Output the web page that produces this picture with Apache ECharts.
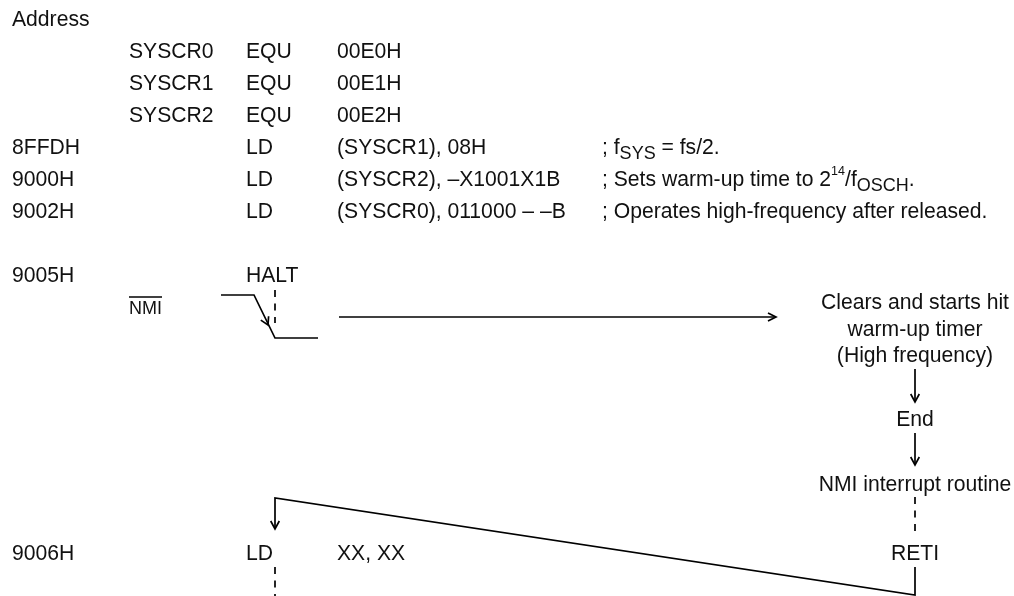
<!DOCTYPE html>
<html><head><meta charset="utf-8">
<style>html,body{margin:0;padding:0;background:#fff}#c{width:1014px;height:596px}</style>
<script src="https://cdn.jsdelivr.net/npm/echarts@6/dist/echarts.min.js"></script>
</head><body><div id="c"></div>
<script>
// Text content, [x, y, text]
const leftText = [
  [12,20,'Address'],
  [129,52,'SYSCR0'],[246,52,'EQU'],[337,52,'00E0H'],
  [129,84,'SYSCR1'],[246,84,'EQU'],[337,84,'00E1H'],
  [129,116,'SYSCR2'],[246,116,'EQU'],[337,116,'00E2H'],
  [12,148,'8FFDH'],[246,148,'LD'],[337,148,'(SYSCR1), 08H'],
  [12,180,'9000H'],[246,180,'LD'],[337,180,'(SYSCR2), \u2013X1001X1B'],
  [12,212,'9002H'],[246,212,'LD'],[337,212,'(SYSCR0), 011000 \u2013 \u2013B'],
  [602,148,'; f{sub|SYS} = fs/2.'],
  [602,180,'; Sets warm-up time to 2{sup|14}/f{sub|OSCH}.'],
  [602,212,'; Operates high-frequency after released.'],
  [12,276,'9005H'],[246,276,'HALT'],
  [12,554,'9006H'],[246,554,'LD'],[337,554,'XX, XX']
];
const nmiLabel = [[129,309,'NMI']];
const centerText = [
  [915,303,'Clears and starts hit'],
  [915,330,'warm-up timer'],
  [915,356,'(High frequency)'],
  [915,420,'End'],
  [915,485,'NMI interrupt routine'],
  [915,554,'RETI']
];
// Solid polylines
const solidLines = [
  [[129,297],[162,297]],
  [[221,295],[254,295],[275,338],[318,338]],
  [[260.8,320.1],[268,325],[268.6,316.3]],
  [[339,317],[776,317]],
  [[768,313],[776,317],[768,321]],
  [[915,369],[915,402]],
  [[910.7,394],[915,402],[919.3,394]],
  [[915,433],[915,465]],
  [[910.7,457],[915,465],[919.3,457]],
  [[915,567],[915,595],[275,498],[275,529]],
  [[270.7,521],[275,529],[279.3,521]]
];
// Dashed lines
const dashedLines = [
  [[275,290],[275,323]],
  [[915,497],[915,531]],
  [[275,567],[275,596]]
];
const rich = {
  sub:{fontSize:18,lineHeight:20,verticalAlign:'bottom',color:'#111',fontFamily:'Liberation Sans'},
  sup:{fontSize:12.5,lineHeight:16,verticalAlign:'top',color:'#111',fontFamily:'Liberation Sans'}
};
const lineSeries = (pts,dash) => ({type:'line',data:pts,showSymbol:false,symbol:'none',silent:true,animation:false,
  lineStyle:{color:'#000',width:1.7,type:dash?[7,6.5]:'solid',cap:'butt',join:'miter'},z:2});
const textSeries = (rows,position,fontSize) => ({type:'scatter',symbolSize:0,silent:true,animation:false,
  itemStyle:{opacity:1},
  data:rows.map(r=>({value:[r[0],r[1]],name:r[2]})),
  label:{show:true,position,distance:0,formatter:p=>p.name,color:'#111',fontSize,lineHeight:30,
    fontFamily:'Liberation Sans',rich},z:3});
const chart = echarts.init(document.getElementById('c'),null,{renderer:'canvas'});
chart.setOption({
  animation:false,backgroundColor:'#fff',
  grid:{left:0,right:0,top:0,bottom:0},
  xAxis:{type:'value',min:0,max:1014,show:false},
  yAxis:{type:'value',min:0,max:596,inverse:true,show:false},
  tooltip:{show:false},
  series:[
    ...solidLines.map(p=>lineSeries(p,false)),
    ...dashedLines.map(p=>lineSeries(p,true)),
    textSeries(leftText,'right',21.15),
    textSeries(nmiLabel,'right',18),
    textSeries(centerText,'inside',21.15)
  ]
});
</script></body></html>
